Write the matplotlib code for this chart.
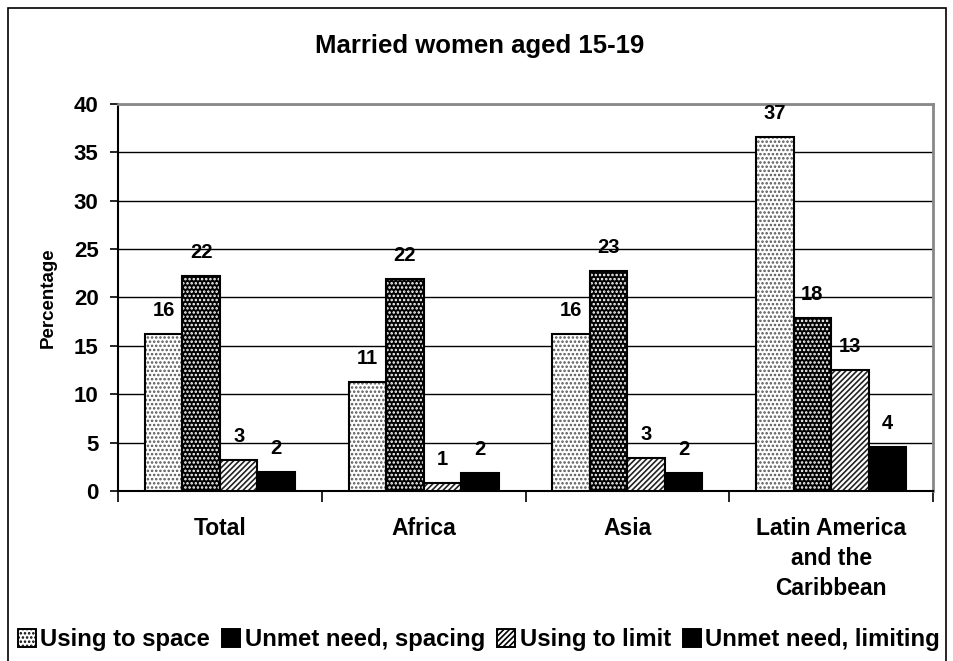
import matplotlib.pyplot as plt
from matplotlib.patches import Rectangle, Patch

plt.rcParams['font.family'] = ['Liberation Sans', 'DejaVu Sans']
plt.rcParams['font.weight'] = 'bold'
plt.rcParams['hatch.linewidth'] = 1.2

# data
regions = ['Total', 'Africa', 'Asia', 'Latin America\nand the\nCaribbean']
series_names = ['Using to space', 'Unmet need, spacing', 'Using to limit', 'Unmet need, limiting']
using_space = [16.2, 11.3, 16.2, 36.6]
unmet_spacing = [22.2, 21.9, 22.7, 17.9]
using_limit = [3.2, 0.8, 3.4, 12.5]
unmet_limiting = [1.96, 1.85, 1.85, 4.5]
shown_labels = [[16, 11, 16, 37], [22, 22, 23, 18], [3, 1, 3, 13], [2, 2, 2, 4]]

series = [using_space, unmet_spacing, using_limit, unmet_limiting]
# (face, hatch, hatch colour)
styles = [('white', '....', '#555555'),
          ('black', '....', 'white'),
          ('white', '//////', '#222222'),
          ('black', None, 'black')]

fig = plt.figure(figsize=(9.54, 6.61), dpi=100)
ax = fig.add_axes([0.1237, 0.2572, 0.978 - 0.1237, 0.8427 - 0.2572])

# outer frame of the chart
fig.patches.append(Rectangle((8 / 954, -0.1), 938 / 954, 1.1 - 8 / 661, transform=fig.transFigure,
                             fill=False, edgecolor='black', linewidth=1.2))

w = 0.184
x = list(range(len(regions)))
for i, vals in enumerate(series):
    face, hatch, hcol = styles[i]
    pos = [xi + (i - 1.5) * w for xi in x]
    # hatch layer (hatch takes the edge colour)
    ax.bar(pos, vals, width=w, color=face, hatch=hatch, edgecolor=hcol, linewidth=0, zorder=3)
    # outline
    ax.bar(pos, vals, width=w, fill=False, edgecolor='black', linewidth=1.5, zorder=4)
    for p, v, lab in zip(pos, vals, shown_labels[i]):
        ax.annotate(str(lab), (p, v), xytext=(0, 17), textcoords='offset points',
                    ha='center', va='center', fontsize=14.5, fontweight='bold')

ax.set_ylim(0, 40)
ax.set_xlim(-0.5, 3.5)
ax.set_yticks(range(0, 41, 5))
ax.yaxis.grid(True, color='black', linewidth=1.0)
ax.set_axisbelow(True)
ax.tick_params(axis='y', labelsize=16, length=6, width=1.2, pad=8)
ax.set_xticks(x)
ax.set_xticklabels(regions, fontsize=16.5, fontweight='bold', linespacing=1.38)
ax.tick_params(axis='x', length=0, pad=19)
ax.set_xticks([-0.5, 0.5, 1.5, 2.5, 3.5], minor=True)
ax.tick_params(axis='x', which='minor', length=8, width=1.2)
for lab in ax.get_yticklabels():
    lab.set_fontweight('bold')

ax.spines['top'].set_color('#888888')
ax.spines['right'].set_color('#888888')
ax.spines['top'].set_linewidth(2)
ax.spines['right'].set_linewidth(2)
ax.spines['left'].set_linewidth(1.5)
ax.spines['bottom'].set_linewidth(1.5)

ax.set_ylabel('Percentage', fontsize=13.5, fontweight='bold', labelpad=12)
fig.text(0.503, 0.930, 'Married women aged 15-19', ha='center', va='center',
         fontsize=18.5, fontweight='bold')

handles = [Patch(facecolor=s[0], hatch=s[1], edgecolor='black', linewidth=1.4) for s in styles]
fig.legend(handles, series_names, loc='center', bbox_to_anchor=(0.502, 0.032), ncol=4,
           frameon=False, fontsize=17.2, handlelength=0.75, handleheight=0.75,
           handletextpad=0.2, columnspacing=0.5, borderaxespad=0)

fig.savefig('out.png', dpi=100)
